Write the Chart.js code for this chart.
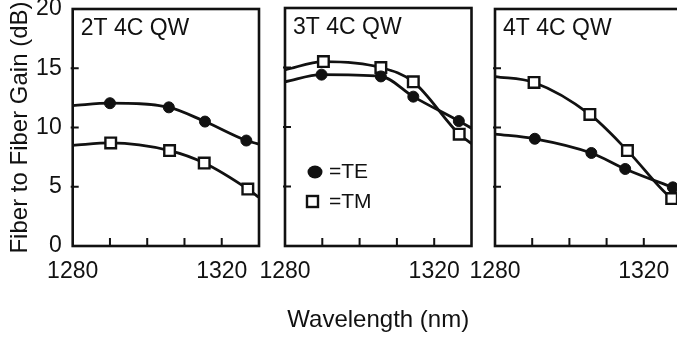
<!DOCTYPE html>
<html>
<head>
<meta charset="utf-8">
<script src="https://cdn.jsdelivr.net/npm/chart.js@4.4.1/dist/chart.umd.min.js"></script>
<style>
    html, body { margin: 0; padding: 0; background: #fff; overflow: hidden; }
    #wrap { position: relative; width: 677px; height: 341px; overflow: hidden; }
    #wrap canvas { position: absolute; left: 0; top: 0; }
</style>
</head>
<body>
<div id="wrap">
    <canvas id="chart2T" width="700" height="341"></canvas>
    <canvas id="chart3T" width="700" height="341"></canvas>
    <canvas id="chart4T" width="700" height="341"></canvas>
</div>
<script>
// values (wavelength nm, gain dB)
// first/last entries are where the fitted curve meets the frame (no marker)
const te2x = [1280, 1290, 1305.8, 1315.5, 1326.6, 1330];
const te2y = [11.85, 12.05, 11.7, 10.5, 8.9, 8.6];
const tm2x = [1280, 1290.2, 1306, 1315.3, 1327, 1330];
const tm2y = [8.5, 8.7, 8.05, 7.0, 4.8, 4.1];

const te3x = [1280, 1289.8, 1305.7, 1314.4, 1326.6, 1330];
const te3y = [13.8, 14.4, 14.25, 12.55, 10.5, 9.9];
const tm3x = [1280, 1290.3, 1305.7, 1314.4, 1326.7, 1330];
const tm3y = [14.8, 15.5, 15.0, 13.8, 9.4, 8.6];

const te4x = [1280, 1290.7, 1305.9, 1315, 1327.8, 1330];
const te4y = [9.45, 9.05, 7.85, 6.5, 4.95, 4.7];
const tm4x = [1280, 1290.5, 1305.5, 1315.6, 1327.5, 1330];
const tm4y = [14.3, 13.8, 11.1, 8.05, 4.0, 3.6];

const xTickLabels = [1280, 1320];
const panelTitles = ['2T 4C QW', '3T 4C QW', '4T 4C QW'];
const legendLabels = ['=TE', '=TM'];

const FONT = "'Liberation Sans', Arial, Helvetica, sans-serif";
const INK = '#111';

function toPoints(xs, ys) {
    return xs.map((x, i) => ({x: x, y: ys[i]}));
}

// markers only on the measured points, not the curve ends
function markerRadius(xs, r) {
    return xs.map((x, i) => (i === 0 || i === xs.length - 1) ? 0 : r);
}

function teSet(xs, ys) {
    return {
        label: 'TE', data: toPoints(xs, ys),
        borderColor: INK, borderWidth: 2.8,
        pointStyle: 'circle', pointRadius: markerRadius(xs, 5.5),
        pointBackgroundColor: INK, pointBorderColor: INK, pointBorderWidth: 1,
        cubicInterpolationMode: 'monotone'
    };
}

function tmSet(xs, ys) {
    return {
        label: 'TM', data: toPoints(xs, ys),
        borderColor: INK, borderWidth: 2.8,
        pointStyle: 'rect', pointRadius: markerRadius(xs, 7.5),
        pointBackgroundColor: '#fff', pointBorderColor: INK, pointBorderWidth: 2.4,
        cubicInterpolationMode: 'monotone'
    };
}

// frame, inward ticks and panel title
const framePlugin = {
    id: 'frame',
    afterDatasetsDraw(chart, args, opts) {
        const ctx = chart.ctx;
        const a = chart.chartArea;
        const xs = chart.scales.x, ys = chart.scales.y;
        ctx.save();
        ctx.strokeStyle = INK;
        ctx.lineWidth = 2.6;
        ctx.strokeRect(a.left, a.top, a.right - a.left, a.bottom - a.top);
        ctx.lineWidth = 2;
        ctx.beginPath();
        xs.ticks.forEach(t => {
            if (t.value <= xs.min || t.value >= xs.max) return;
            const px = xs.getPixelForValue(t.value);
            ctx.moveTo(px, a.bottom);
            ctx.lineTo(px, a.bottom - 8);
        });
        ys.ticks.forEach(t => {
            if (t.value <= ys.min || t.value >= ys.max) return;
            const py = ys.getPixelForValue(t.value);
            ctx.moveTo(a.left - 2, py);
            ctx.lineTo(a.left + 6, py);
        });
        ctx.stroke();
        ctx.fillStyle = INK;
        ctx.font = '23px ' + FONT;
        ctx.textBaseline = 'middle';
        ctx.textAlign = 'left';
        ctx.fillText(opts.title, a.left + 8, a.top + 20);
        ctx.restore();
    }
};

// little key inside the middle panel
const keyPlugin = {
    id: 'key',
    afterDraw(chart, args, opts) {
        if (!opts.show) return;
        const ctx = chart.ctx;
        const a = chart.chartArea;
        ctx.save();
        ctx.fillStyle = INK;
        ctx.strokeStyle = INK;
        ctx.beginPath();
        ctx.ellipse(a.left + 30, a.top + 164, 7.5, 6.5, 0, 0, Math.PI * 2);
        ctx.fill();
        ctx.lineWidth = 2.4;
        ctx.strokeRect(a.left + 22, a.top + 188, 11, 11);
        ctx.font = '21px ' + FONT;
        ctx.textBaseline = 'middle';
        ctx.fillText(legendLabels[0], a.left + 44, a.top + 164);
        ctx.fillText(legendLabels[1], a.left + 44, a.top + 194);
        ctx.restore();
    }
};

function makeChart(id, datasets, idx, pad) {
    const first = idx === 0;
    const middle = idx === 1;
    const ctx = document.getElementById(id).getContext('2d');
    return new Chart(ctx, {
        type: 'line',
        data: {datasets: datasets},
        plugins: [framePlugin, keyPlugin],
        options: {
            responsive: false,
            animation: false,
            layout: {padding: pad},
            plugins: {
                legend: {display: false},
                tooltip: {enabled: false},
                frame: {title: panelTitles[idx]},
                key: {show: middle}
            },
            scales: {
                x: {
                    type: 'linear', min: 1280, max: 1330,
                    grid: {display: false, drawTicks: false},
                    border: {display: false},
                    ticks: {
                        stepSize: 10, autoSkip: false, maxRotation: 0,
                        padding: 12, color: INK, font: {family: FONT, size: 23},
                        callback: v => xTickLabels.includes(v) ? String(v) : ''
                    },
                    title: {
                        display: middle, text: 'Wavelength (nm)', color: INK,
                        font: {family: FONT, size: 24}, padding: {top: 0, bottom: 6}
                    },
                    afterFit: s => {
                        s.height = 95;
                        s.paddingLeft = 0;
                        s.paddingRight = 0;
                    }
                },
                y: {
                    display: first,
                    min: 0, max: 20,
                    grid: {display: false, drawTicks: false},
                    border: {display: false},
                    ticks: {stepSize: 5, padding: 11, color: INK, font: {family: FONT, size: 23}},
                    title: {
                        display: true, text: 'Fiber to Fiber Gain (dB)', color: INK,
                        font: {family: FONT, size: 24}, padding: {top: 6, bottom: 0}
                    },
                    afterFit: s => {
                        s.width = first ? 72.7 : 0;
                        s.paddingTop = 0;
                        s.paddingBottom = 0;
                    }
                }
            }
        }
    });
}

makeChart('chart2T', [teSet(te2x, te2y), tmSet(tm2x, tm2y)], 0,
    {left: 0, right: 700 - 259, top: 9, bottom: 0});
makeChart('chart3T', [teSet(te3x, te3y), tmSet(tm3x, tm3y)], 1,
    {left: 285, right: 700 - 471.5, top: 8, bottom: 0});
makeChart('chart4T', [teSet(te4x, te4y), tmSet(tm4x, tm4y)], 2,
    {left: 495, right: 700 - 681, top: 9, bottom: 0});
</script>
</body>
</html>
